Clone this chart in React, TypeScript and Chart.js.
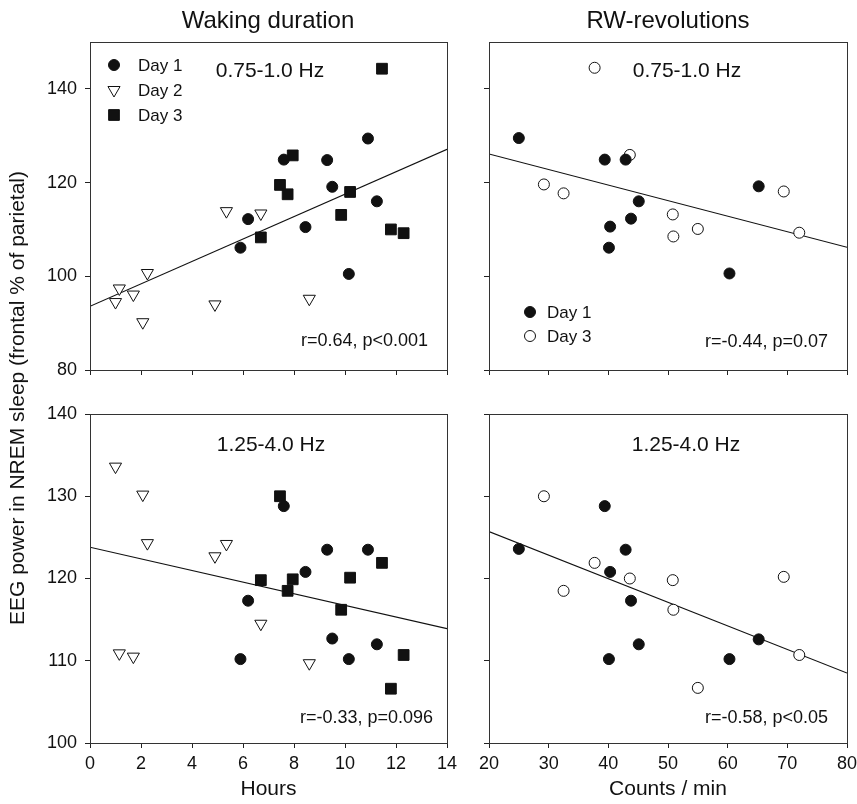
import React, { useEffect, useRef } from 'react';
import { Chart, registerables } from 'chart.js';

Chart.register(...registerables);

const FONT = "'Liberation Sans', Arial, Helvetica, sans-serif";
const INK = '#111';

// ---------- data ----------
// Waking duration (hours)
const day1Hours = [5.9, 6.2, 7.6, 8.45, 9.3, 9.5, 10.15, 10.9, 11.25];
const day1HoursSlow = [106.1, 112.2, 124.9, 110.5, 124.8, 119.1, 100.5, 129.4, 116.0];
const day1HoursFast = [110.2, 117.3, 128.8, 120.8, 123.5, 112.7, 110.2, 123.5, 112.0];
const day2Hours = [1.0, 1.15, 1.7, 2.07, 2.25, 4.9, 5.35, 6.7, 8.6];
const day2HoursSlow = [94.5, 97.4, 96.1, 90.2, 100.7, 94.0, 113.9, 113.4, 95.2];
const day2HoursFast = [133.6, 110.9, 110.5, 130.2, 124.3, 122.7, 124.2, 114.5, 109.7];
const day3Hours = [6.7, 7.45, 7.75, 7.95, 9.85, 10.2, 11.45, 11.8, 12.3];
const day3HoursSlow = [108.3, 119.5, 117.5, 125.8, 113.1, 118.0, 144.3, 110.0, 109.2];
const day3HoursFast = [119.8, 130.0, 118.5, 119.9, 116.2, 120.1, 121.9, 106.6, 110.7];

// RW-revolutions (counts / min)
const day1Counts = [25.0, 39.4, 40.1, 40.3, 42.9, 43.8, 45.1, 60.3, 65.2];
const day1CountsSlow = [129.5, 124.9, 106.1, 110.6, 124.9, 112.3, 116.0, 100.6, 119.2];
const day1CountsFast = [123.6, 128.8, 110.2, 120.8, 123.5, 117.3, 112.0, 110.2, 112.6];
const day3Counts = [29.2, 32.5, 37.7, 43.6, 50.8, 50.9, 55.0, 69.4, 72.0];
const day3CountsSlow = [119.6, 117.7, 144.5, 125.9, 113.2, 108.5, 110.1, 118.1, 109.3];
const day3CountsFast = [130.0, 118.5, 121.9, 120.0, 119.8, 116.2, 106.7, 120.2, 110.7];

// regression lines (end points at axis limits)
const hoursLineX = [0, 14];
const hoursSlowLine = [93.6, 127.1];
const hoursFastLine = [123.8, 113.9];
const countsLineX = [20, 80];
const countsSlowLine = [126.1, 106.2];
const countsFastLine = [125.7, 108.5];

// axes: [min, max, step]
const hoursAxis = [0, 14, 2];
const countsAxis = [20, 80, 10];
const slowAxis = [80, 150, 20];
const fastAxis = [100, 140, 10];

const columnTitles = ['Waking duration', 'RW-revolutions'];
const xTitles = ['Hours', 'Counts / min'];
const yTitle = 'EEG power in NREM sleep (frontal % of parietal)';
const bandLabels = ['0.75-1.0 Hz', '1.25-4.0 Hz'];
const statLabels = ['r=0.64, p<0.001', 'r=-0.44, p=0.07', 'r=-0.33, p=0.096', 'r=-0.58, p<0.05'];

// ---------- marker styles ----------
type Marker = { pointStyle: string; radius: number; fill: string; rotation: number };
const M_DAY1: Marker = { pointStyle: 'circle', radius: 5.5, fill: INK, rotation: 0 };
const M_DAY2: Marker = { pointStyle: 'triangle', radius: 7, fill: '#fff', rotation: 180 };
const M_DAY3SQ: Marker = { pointStyle: 'rect', radius: 7.6, fill: INK, rotation: 0 };
const M_DAY3OPEN: Marker = { pointStyle: 'circle', radius: 5.5, fill: '#fff', rotation: 0 };

const zip = (xs: number[], ys: number[]) => xs.map((x, i) => ({ x, y: ys[i] }));

const scatterSet = (label: string, xs: number[], ys: number[], m: Marker) => ({
  label,
  data: zip(xs, ys),
  pointStyle: m.pointStyle,
  pointRadius: m.radius,
  pointRotation: m.rotation,
  pointBackgroundColor: m.fill,
  pointBorderColor: INK,
  pointBorderWidth: 1,
  showLine: false,
  order: 1,
});

const lineSet = (xs: number[], ys: number[]) => ({
  label: 'fit',
  data: zip(xs, ys),
  showLine: true,
  pointRadius: 0,
  borderColor: INK,
  borderWidth: 1.1,
  fill: false,
  order: 10,
});

function drawMarker(ctx: CanvasRenderingContext2D, m: Marker, x: number, y: number) {
  ctx.save();
  ctx.lineWidth = 1;
  ctx.strokeStyle = INK;
  ctx.fillStyle = m.fill;
  ctx.beginPath();
  if (m.pointStyle === 'circle') {
    ctx.arc(x, y, m.radius, 0, Math.PI * 2);
  } else if (m.pointStyle === 'rect') {
    const s = Math.SQRT1_2 * m.radius;
    ctx.rect(x - s, y - s, 2 * s, 2 * s);
  } else if (m.pointStyle === 'triangle') {
    let rad = (m.rotation * Math.PI) / 180;
    ctx.moveTo(x + Math.sin(rad) * m.radius, y - Math.cos(rad) * m.radius);
    rad += (2 * Math.PI) / 3;
    ctx.lineTo(x + Math.sin(rad) * m.radius, y - Math.cos(rad) * m.radius);
    rad += (2 * Math.PI) / 3;
    ctx.lineTo(x + Math.sin(rad) * m.radius, y - Math.cos(rad) * m.radius);
    ctx.closePath();
  }
  ctx.fill();
  ctx.stroke();
  ctx.restore();
}

type TextItem = { text: string; size: number; x: number; y: number; align: CanvasTextAlign };
type LegendItem = { marker: Marker; text: string; y: number };

type PanelCfg = {
  key: string;
  left: number;
  top: number;
  w: number;
  h: number;
  pad: { top: number; right: number };
  yWidth: number;
  xHeight: number;
  xAxis: number[];
  yAxis: number[];
  showXLabels: boolean;
  showYLabels: boolean;
  xTitle?: string;
  datasets: any[];
  texts: TextItem[];
  legend: { mx: number; tx: number; items: LegendItem[] } | null;
};

const panels: PanelCfg[] = [
  {
    key: 'tl', left: 0, top: 0, w: 470, h: 390, pad: { top: 42, right: 23 }, yWidth: 90, xHeight: 20,
    xAxis: hoursAxis, yAxis: slowAxis, showXLabels: false, showYLabels: true,
    datasets: [
      scatterSet('Day 1', day1Hours, day1HoursSlow, M_DAY1),
      scatterSet('Day 2', day2Hours, day2HoursSlow, M_DAY2),
      scatterSet('Day 3', day3Hours, day3HoursSlow, M_DAY3SQ),
      lineSet(hoursLineX, hoursSlowLine),
    ],
    texts: [
      { text: bandLabels[0], size: 21, x: 180, y: 29, align: 'center' },
      { text: statLabels[0], size: 18, x: 338, y: 299, align: 'right' },
    ],
    legend: {
      mx: 24, tx: 48, items: [
        { marker: M_DAY1, text: 'Day 1', y: 23 },
        { marker: M_DAY2, text: 'Day 2', y: 48 },
        { marker: M_DAY3SQ, text: 'Day 3', y: 73 },
      ],
    },
  },
  {
    key: 'tr', left: 460, top: 0, w: 410, h: 390, pad: { top: 42, right: 23 }, yWidth: 29, xHeight: 20,
    xAxis: countsAxis, yAxis: slowAxis, showXLabels: false, showYLabels: false,
    datasets: [
      scatterSet('Day 1', day1Counts, day1CountsSlow, M_DAY1),
      scatterSet('Day 3', day3Counts, day3CountsSlow, M_DAY3OPEN),
      lineSet(countsLineX, countsSlowLine),
    ],
    texts: [
      { text: bandLabels[0], size: 21, x: 198, y: 29, align: 'center' },
      { text: statLabels[1], size: 18, x: 339, y: 300, align: 'right' },
    ],
    legend: {
      mx: 41, tx: 58, items: [
        { marker: M_DAY1, text: 'Day 1', y: 270 },
        { marker: M_DAY3OPEN, text: 'Day 3', y: 294 },
      ],
    },
  },
  {
    key: 'bl', left: 0, top: 390, w: 470, h: 414, pad: { top: 24, right: 23 }, yWidth: 90, xHeight: 61,
    xAxis: hoursAxis, yAxis: fastAxis, showXLabels: true, showYLabels: true, xTitle: xTitles[0],
    datasets: [
      scatterSet('Day 1', day1Hours, day1HoursFast, M_DAY1),
      scatterSet('Day 2', day2Hours, day2HoursFast, M_DAY2),
      scatterSet('Day 3', day3Hours, day3HoursFast, M_DAY3SQ),
      lineSet(hoursLineX, hoursFastLine),
    ],
    texts: [
      { text: bandLabels[1], size: 21, x: 181, y: 31, align: 'center' },
      { text: statLabels[2], size: 18, x: 343, y: 304, align: 'right' },
    ],
    legend: null,
  },
  {
    key: 'br', left: 460, top: 390, w: 410, h: 414, pad: { top: 24, right: 23 }, yWidth: 29, xHeight: 61,
    xAxis: countsAxis, yAxis: fastAxis, showXLabels: true, showYLabels: false, xTitle: xTitles[1],
    datasets: [
      scatterSet('Day 1', day1Counts, day1CountsFast, M_DAY1),
      scatterSet('Day 3', day3Counts, day3CountsFast, M_DAY3OPEN),
      lineSet(countsLineX, countsFastLine),
    ],
    texts: [
      { text: bandLabels[1], size: 21, x: 197, y: 31, align: 'center' },
      { text: statLabels[3], size: 18, x: 339, y: 304, align: 'right' },
    ],
    legend: null,
  },
];

function Panel({ cfg }: { cfg: PanelCfg }) {
  const ref = useRef<HTMLCanvasElement>(null);
  useEffect(() => {
    const canvas = ref.current;
    if (!canvas) return;
    const decor = {
      id: 'decor_' + cfg.key,
      afterDraw(chart: any) {
        const { ctx, chartArea } = chart;
        const { left, top, right, bottom } = chartArea;
        ctx.save();
        // frame
        ctx.strokeStyle = '#333';
        ctx.lineWidth = 1;
        ctx.strokeRect(Math.round(left) + 0.5, Math.round(top) + 0.5, Math.round(right - left), Math.round(bottom - top));
        // texts
        ctx.fillStyle = INK;
        ctx.textBaseline = 'middle';
        cfg.texts.forEach((t) => {
          ctx.font = `${t.size}px ${FONT}`;
          ctx.textAlign = t.align;
          ctx.fillText(t.text, left + t.x, top + t.y);
        });
        if (cfg.legend) {
          const lg = cfg.legend;
          lg.items.forEach((it) => {
            drawMarker(ctx, it.marker, left + lg.mx, top + it.y);
            ctx.fillStyle = INK;
            ctx.font = `17px ${FONT}`;
            ctx.textAlign = 'left';
            ctx.textBaseline = 'middle';
            ctx.fillText(it.text, left + lg.tx, top + it.y + 1);
          });
        }
        ctx.restore();
      },
    };
    const chart = new Chart(canvas, {
      type: 'scatter',
      data: { datasets: cfg.datasets },
      options: {
        responsive: false,
        animation: false,
        events: [],
        layout: { padding: { top: cfg.pad.top, right: cfg.pad.right, left: 0, bottom: 0 } },
        plugins: { legend: { display: false }, tooltip: { enabled: false }, title: { display: false } },
        scales: {
          x: {
            type: 'linear',
            position: 'bottom',
            min: cfg.xAxis[0],
            max: cfg.xAxis[1],
            ticks: {
              stepSize: cfg.xAxis[2],
              display: cfg.showXLabels,
              includeBounds: false,
              autoSkip: false,
              maxRotation: 0,
              color: INK,
              padding: 5,
              font: { family: FONT, size: 18 },
            },
            grid: { display: true, drawOnChartArea: false, drawTicks: true, tickLength: 5, color: '#222', lineWidth: 1 },
            border: { display: false },
            title: cfg.xTitle
              ? { display: true, text: cfg.xTitle, color: INK, font: { family: FONT, size: 21 }, padding: { top: 0, bottom: 2 } }
              : { display: false },
            afterFit: (s: any) => { s.height = cfg.xHeight; },
          },
          y: {
            type: 'linear',
            position: 'left',
            min: cfg.yAxis[0],
            max: cfg.yAxis[1],
            ticks: {
              stepSize: cfg.yAxis[2],
              display: cfg.showYLabels,
              includeBounds: false,
              autoSkip: false,
              color: INK,
              padding: 8,
              font: { family: FONT, size: 18 },
            },
            grid: { display: true, drawOnChartArea: false, drawTicks: true, tickLength: 5, color: '#222', lineWidth: 1 },
            border: { display: false },
            afterFit: (s: any) => { s.width = cfg.yWidth; },
          },
        },
      } as any,
      plugins: [decor],
    });
    return () => chart.destroy();
  }, [cfg]);
  return (
    <canvas
      ref={ref}
      width={cfg.w}
      height={cfg.h}
      style={{ position: 'absolute', left: cfg.left, top: cfg.top, width: cfg.w, height: cfg.h }}
    />
  );
}

export default function App() {
  const textStyle: React.CSSProperties = {
    position: 'absolute',
    fontFamily: FONT,
    color: INK,
    whiteSpace: 'nowrap',
    lineHeight: '24px',
  };
  return (
    <div style={{ position: 'absolute', left: 0, top: 0, width: 857, height: 804, background: '#fff', overflow: 'hidden' }}>
      {panels.map((p) => (
        <Panel key={p.key} cfg={p} />
      ))}
      <div style={{ ...textStyle, fontSize: 24, left: 268, top: 8, transform: 'translateX(-50%)' }}>{columnTitles[0]}</div>
      <div style={{ ...textStyle, fontSize: 24, left: 668, top: 8, transform: 'translateX(-50%)' }}>{columnTitles[1]}</div>
      <div
        style={{
          ...textStyle,
          fontSize: 21,
          left: 17,
          top: 398,
          transform: 'translate(-50%, -50%) rotate(-90deg)',
        }}
      >
        {yTitle}
      </div>
    </div>
  );
}
